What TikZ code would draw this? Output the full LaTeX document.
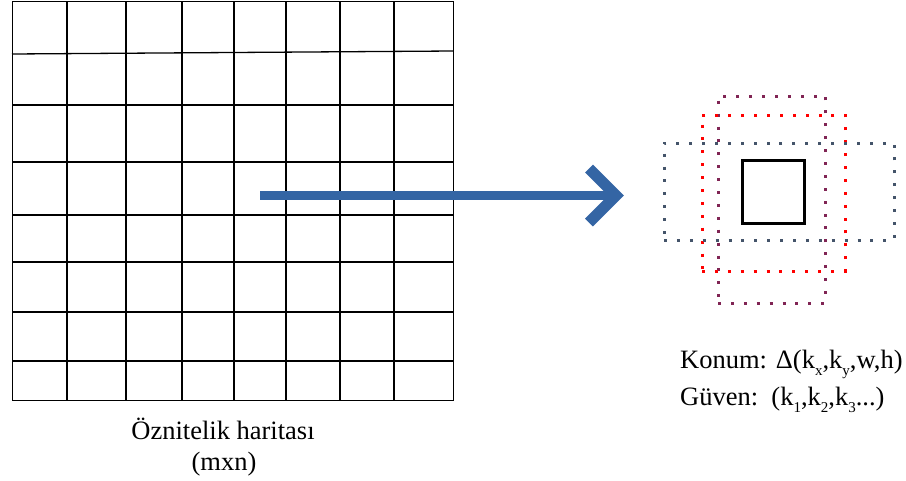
\documentclass[tikz,border=0pt]{standalone}
\usepackage{fontspec}
\setmainfont{Liberation Serif}
\definecolor{arrowblue}{RGB}{52,101,164}
\definecolor{slateblue}{RGB}{68,84,106}
\definecolor{maroonish}{RGB}{128,36,84}
\newcommand{\sbs}[1]{\raisebox{-7.5pt}{\fontsize{15}{15}\selectfont #1}}
\tikzset{
  gridline/.style={line width=1.3pt, black},
  dotbox/.style={draw=#1, line width=3pt, dash pattern=on 3pt off 9.9pt, inner sep=0pt},
  txt/.style={font=\fontsize{26.5}{30}\selectfont, inner sep=0pt},
}
\begin{document}
\begin{tikzpicture}[x=1pt,y=-1pt]
\useasboundingbox (0,0) rectangle (906,480);
% grid
\node[draw, gridline, minimum width=441pt, minimum height=399pt, inner sep=0pt, anchor=north west] (grid) at (12,1) {};
\foreach \x in {67,126,182,234,286,340,394} \draw[gridline] (\x,1) -- (\x,400);
\draw[gridline] (12,54) -- (453,51);
\foreach \y in {105,162,215,262,312,361} \draw[gridline] (12,\y) -- (453,\y);
% label
\node[txt, anchor=base] (lbl) at (223,439) {Öznitelik haritası};
\node[txt, anchor=base] (lbl2) at (224,470) {(mxn)};
% boxes
\node[dotbox=maroonish, minimum width=107pt, minimum height=207pt] (bm) at (771.5,199.5) {};
\node[dotbox=red, minimum width=143pt, minimum height=156pt] (br) at (773.5,193) {};
\node[dotbox=slateblue, minimum width=230pt, minimum height=97pt] (bb) at (779,191.5) {};
\node[draw, line width=3pt, minimum width=62pt, minimum height=63pt, inner sep=0pt] (box) at (773,191.5) {};
% arrow
\coordinate (a0) at (260,195.5);
\coordinate (a1) at (616,195.5);
\draw[arrowblue, line width=9pt] (a0) -- ([xshift=-4pt]a1);
\draw[arrowblue, line width=11pt, line join=miter] ([shift={(-27,-27)}]a1) -- (a1) -- ([shift={(-27,27)}]a1);
% text
\node[txt, anchor=base west] (konum) at (680,368) {Konum: Δ(k\sbs{x},k\sbs{y},w,h)};
\node[txt, anchor=base west] (guven) at (680,405) {Güven:\ \ (k\sbs{1},k\sbs{2},k\sbs{3}...)};
\end{tikzpicture}
\end{document}
